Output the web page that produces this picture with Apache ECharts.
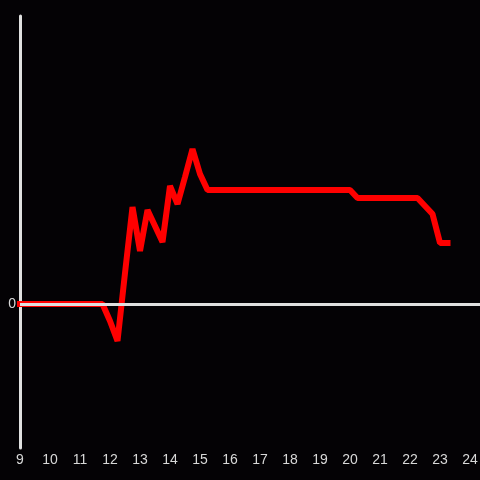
<!DOCTYPE html>
<html>
<head>
<meta charset="utf-8">
<style>
html, body { margin: 0; padding: 0; background: #040205; }
#container { width: 480px; height: 480px; }
</style>
<script src="https://cdn.jsdelivr.net/npm/echarts@6/dist/echarts.min.js"></script>
</head>
<body>
<div id="container"></div>
<script>
// time of day (hours), one point every 15 minutes
var hours = [9, 9.25, 9.5, 9.75, 10, 10.25, 10.5, 10.75, 11, 11.25, 11.5, 11.75,
	12, 12.25, 12.5, 12.75, 13, 13.25, 13.5, 13.75, 14, 14.25, 14.5, 14.75,
	15, 15.25, 15.5, 15.75, 16, 16.25, 16.5, 16.75, 17, 17.25, 17.5, 17.75,
	18, 18.25, 18.5, 18.75, 19, 19.25, 19.5, 19.75, 20, 20.25, 20.5, 20.75,
	21, 21.25, 21.5, 21.75, 22, 22.25, 22.5, 22.75, 23, 23.25];
var values = [0, 0, 0, 0, 0, 0, 0, 0, 0, 0, 0, 0,
	-17, -37, 31, 97, 53, 94, 78, 62, 118, 100, 127, 155,
	130, 114, 114, 114, 114, 114, 114, 114, 114, 114, 114, 114,
	114, 114, 114, 114, 114, 114, 114, 114, 114, 106, 106, 106,
	106, 106, 106, 106, 106, 106, 98, 90, 61, 61];
var xTicks = [9, 10, 11, 12, 13, 14, 15, 16, 17, 18, 19, 20, 21, 22, 23, 24];

var dom = document.getElementById("container");
var myChart = echarts.init(dom, null, { renderer: 'canvas' });

var points = [];
for (var i = 0; i < hours.length; i++) {
	points.push([hours[i], values[i]]);
}

myChart.setOption({
	backgroundColor: '#040205',
	animation: false,
	grid: { left: 20, right: 0, top: 16, bottom: 32, outerBoundsMode: 'none', containLabel: false },
	xAxis: {
		type: 'value',
		min: 9,
		max: 24.333,
		interval: 1,
		axisLine: { show: false },
		axisTick: { show: false },
		splitLine: { show: false },
		axisLabel: {
			color: '#d8d8d8',
			fontSize: 14,
			margin: 5,
			showMaxLabel: false,
			formatter: function (v) {
				return xTicks.indexOf(v) >= 0 ? String(v) : '';
			}
		}
	},
	yAxis: {
		type: 'value',
		min: -144,
		max: 288,
		interval: 144,
		axisLine: { show: true, lineStyle: { color: '#e0e0e0', width: 3 } },
		axisTick: { show: false },
		splitLine: { show: false },
		axisLabel: {
			color: '#d8d8d8',
			fontSize: 14,
			margin: 4,
			formatter: function (v) { return v === 0 ? '0' : ''; }
		}
	},
	series: [
		{
			// zero reference line
			type: 'line',
			data: [],
			z: 1,
			silent: true,
			markLine: {
				silent: true,
				symbol: 'none',
				label: { show: false },
				lineStyle: { color: '#e0e0e0', width: 3, type: 'solid' },
				data: [{ yAxis: 0 }]
			}
		},
		{
			type: 'line',
			data: points,
			z: 3,
			showSymbol: false,
			symbol: 'none',
			lineStyle: { color: '#ff0000', width: 6, cap: 'square' }
		}
	]
});
</script>
</body>
</html>
